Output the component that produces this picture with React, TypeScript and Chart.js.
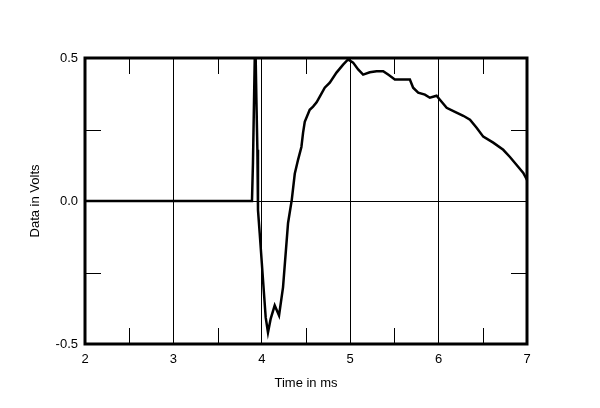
import React, { useEffect, useRef } from "react";
import { Chart, registerables } from "chart.js";

Chart.register(...registerables);

const timeMs = [
  2.0, 3.889, 3.9, 3.92, 3.931, 3.939, 3.95, 3.957, 3.976, 4.014, 4.044, 4.07,
  4.101, 4.146, 4.195, 4.24, 4.297, 4.339, 4.373, 4.41, 4.448, 4.467, 4.486,
  4.542, 4.58, 4.62, 4.656, 4.712, 4.769, 4.845, 4.92, 4.976, 5.033, 5.09,
  5.146, 5.222, 5.298, 5.373, 5.429, 5.505, 5.599, 5.675, 5.712, 5.769, 5.845,
  5.901, 5.977, 6.015, 6.091, 6.185, 6.279, 6.355, 6.43, 6.505, 6.618, 6.731,
  6.807, 6.883, 6.958, 7.0,
];
const volts = [
  0, 0, 0.133, 0.495, 0.495, 0.354, 0.179, -0.032, -0.112, -0.277, -0.407,
  -0.46, -0.411, -0.365, -0.4, -0.302, -0.077, 0.004, 0.095, 0.144, 0.189,
  0.239, 0.277, 0.319, 0.33, 0.345, 0.365, 0.396, 0.414, 0.449, 0.477, 0.495,
  0.484, 0.46, 0.442, 0.45, 0.454, 0.454, 0.442, 0.425, 0.425, 0.425, 0.396,
  0.379, 0.372, 0.361, 0.368, 0.354, 0.326, 0.312, 0.298, 0.284, 0.256, 0.225,
  0.204, 0.179, 0.154, 0.126, 0.098, 0.074,
];
const xMinorTicks = [2.5, 3.5, 4.5, 5.5, 6.5];
const yMinorTicks = [-0.25, 0.25];
const xTitle = "Time in ms";
const yTitle = "Data in Volts";

const FONT = "'Liberation Sans', Arial, Helvetica, sans-serif";

const framePlugin = {
  id: "frameAndMinor",
  afterDatasetsDraw(chart: any) {
    const { ctx, chartArea, scales } = chart;
    const { left, right, top, bottom } = chartArea;
    const tl = 16;
    ctx.save();
    ctx.strokeStyle = "#000";
    ctx.lineWidth = 1;
    ctx.beginPath();
    for (const v of xMinorTicks) {
      const px = Math.round(scales.x.getPixelForValue(v)) + 0.5;
      ctx.moveTo(px, top);
      ctx.lineTo(px, top + tl);
      ctx.moveTo(px, bottom);
      ctx.lineTo(px, bottom - tl);
    }
    for (const v of yMinorTicks) {
      const py = Math.round(scales.y.getPixelForValue(v)) + 0.5;
      ctx.moveTo(left, py);
      ctx.lineTo(left + tl, py);
      ctx.moveTo(right, py);
      ctx.lineTo(right - tl, py);
    }
    ctx.stroke();
    ctx.lineWidth = 3;
    ctx.strokeRect(left, top, right - left, bottom - top);
    ctx.restore();
  },
};

export default function App() {
  const ref = useRef<HTMLCanvasElement>(null);
  useEffect(() => {
    if (!ref.current) return;
    const data = timeMs.map((t, i) => ({ x: t, y: volts[i] }));
    const chart = new Chart(ref.current, {
      type: "line",
      data: {
        datasets: [
          {
            data,
            borderColor: "#000",
            borderWidth: 2.5,
            pointRadius: 0,
            tension: 0,
            fill: false,
          },
        ],
      },
      options: {
        animation: false,
        responsive: false,
        devicePixelRatio: 1,
        layout: { padding: { left: 0, top: 58, right: 73, bottom: 13 } },
        plugins: { legend: { display: false }, tooltip: { enabled: false } },
        scales: {
          x: {
            type: "linear",
            min: 2,
            max: 7,
            ticks: {
              stepSize: 1,
              color: "#000",
              font: { family: FONT, size: 13 },
              padding: 8,
              maxRotation: 0,
            },
            grid: { color: "#000", lineWidth: 1, drawTicks: false },
            border: { display: false },
            title: {
              display: true,
              text: xTitle,
              color: "#000",
              font: { family: FONT, size: 13 },
              padding: { top: 4, bottom: 4 },
            },
            afterFit: (s: any) => {
              s.height = 51;
            },
          },
          y: {
            type: "linear",
            min: -0.5,
            max: 0.5,
            ticks: {
              stepSize: 0.5,
              color: "#000",
              font: { family: FONT, size: 13 },
              padding: 7,
              callback: (v: any) => Number(v).toFixed(1),
            },
            grid: { color: "#000", lineWidth: 1, drawTicks: false },
            border: { display: false },
            title: {
              display: true,
              text: yTitle,
              color: "#000",
              font: { family: FONT, size: 13 },
              padding: { top: 28, bottom: 4 },
            },
            afterFit: (s: any) => {
              s.width = 85;
            },
          },
        },
      },
      plugins: [framePlugin],
    });
    return () => chart.destroy();
  }, []);
  return (
    <div style={{ position: "fixed", left: 0, top: 0, width: 600, height: 408, background: "#fff" }}>
      <canvas ref={ref} width={600} height={408} style={{ width: 600, height: 408 }} />
    </div>
  );
}
